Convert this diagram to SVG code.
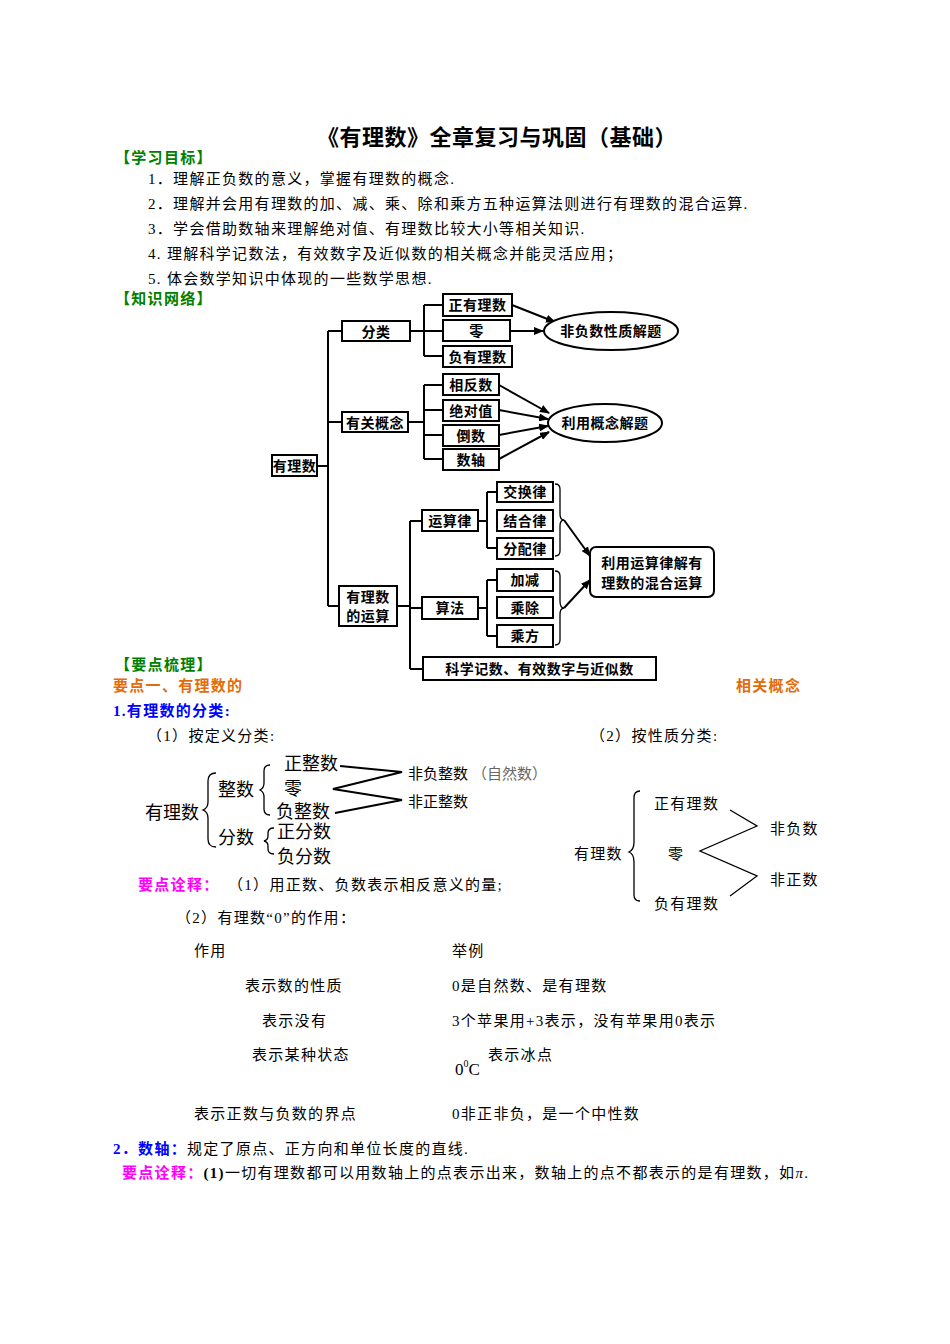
<svg xmlns="http://www.w3.org/2000/svg" width="950" height="1344" viewBox="0 0 950 1344">
<style>
text{font-family:"Liberation Serif","Noto Sans CJK SC",serif;font-size:15px;fill:#000;letter-spacing:1.3px}
.t{font-size:14px;font-weight:bold;letter-spacing:0.5px}
.c{text-anchor:middle}
.b{fill:#fff;stroke:#000;stroke-width:2}
.ln{stroke:#000;stroke-width:2;fill:none}
.thin{stroke:#000;stroke-width:1.3;fill:none}
.g{fill:#008000;font-weight:bold}
.o{fill:#e36c09;font-weight:bold}
.bl{fill:#0000ff;font-weight:bold}
.m{fill:#ff00ff;font-weight:bold}
.k{font-size:18px;letter-spacing:0}
</style>
<defs><marker id="a" markerWidth="10" markerHeight="8" refX="9" refY="4" orient="auto" markerUnits="userSpaceOnUse"><path d="M0,0L10,4L0,8z"/></marker></defs>
<rect width="950" height="1344" fill="#fff"/>
<text x="497" y="145" class="c" style="font-size:22px;font-weight:bold;letter-spacing:0.5px">《有理数》全章复习与巩固（基础）</text>
<text x="115" y="163" class="g">【学习目标】</text>
<text x="148" y="184">1．理解正负数的意义，掌握有理数的概念.</text>
<text x="148" y="209">2．理解并会用有理数的加、减、乘、除和乘方五种运算法则进行有理数的混合运算.</text>
<text x="148" y="234">3．学会借助数轴来理解绝对值、有理数比较大小等相关知识.</text>
<text x="148" y="259">4. 理解科学记数法，有效数字及近似数的相关概念并能灵活应用；</text>
<text x="148" y="284">5. 体会数学知识中体现的一些数学思想.</text>
<text x="115" y="304" class="g">【知识网络】</text>
<g id="connectors">
<path class="ln" d="M317,466H328M328,331V606M328,331H342M328,422H342M328,606H339"/>
<path class="ln" d="M410,331H443M424,305V356M424,305H443M424,356H443"/>
<path class="ln" d="M408,422H424M424,385V459M424,385H443M424,410H443M424,435H443M424,459H443"/>
<path class="ln" d="M397,606H410M410,521V669M410,521H422M410,608H422M410,669H423"/>
<path class="ln" d="M478,521H487M487,492V548M487,492H497M487,548H497"/>
<path class="ln" d="M478,608H487M487,580V636M487,580H497M487,636H497"/>
<path class="thin" d="M555,484q5,0 5,5v25q0,6 4,6q-4,0 -4,6v25q0,5 -5,5M555,571q5,0 5,5v25q0,7 4,7q-4,0 -4,7v25q0,5 -5,5"/>
<g class="ln" marker-end="url(#a)">
<path d="M512,305L555,322"/><path d="M510,331H543"/><path d="M499,385L549,413"/><path d="M499,410L548,419"/><path d="M499,435L548,426"/><path d="M499,459L549,432"/>
<path d="M564,520L590,556"/><path d="M564,608L590,580"/>
</g>
</g>
<g id="n-root"><rect class="b" x="272" y="455" width="45" height="21"/><text x="294.5" y="471" class="t c">有理数</text></g>
<g id="n-fenlei"><rect class="b" x="342" y="321" width="68" height="20"/><text x="376" y="337" class="t c">分类</text></g>
<g id="n-gainian"><rect class="b" x="342" y="412" width="66" height="20"/><text x="375" y="428" class="t c">有关概念</text></g>
<g id="n-yunsuan"><rect class="b" x="339" y="586" width="58" height="40"/><text x="368" y="602" class="t c">有理数</text><text x="368" y="621" class="t c">的运算</text></g>
<g id="n-z1"><rect class="b" x="443" y="294" width="69" height="22"/><text x="477.5" y="310" class="t c">正有理数</text></g>
<g id="n-z2"><rect class="b" x="443" y="320" width="67" height="21"/><text x="476.5" y="336" class="t c">零</text></g>
<g id="n-z3"><rect class="b" x="443" y="346" width="69" height="21"/><text x="477.5" y="362" class="t c">负有理数</text></g>
<g id="n-e1"><ellipse class="b" cx="611" cy="331" rx="67" ry="19"/><text x="611" y="336" class="t c">非负数性质解题</text></g>
<g id="n-g1"><rect class="b" x="443" y="374" width="56" height="21"/><text x="471" y="390" class="t c">相反数</text></g>
<g id="n-g2"><rect class="b" x="443" y="400" width="56" height="21"/><text x="471" y="416" class="t c">绝对值</text></g>
<g id="n-g3"><rect class="b" x="443" y="425" width="56" height="21"/><text x="471" y="441" class="t c">倒数</text></g>
<g id="n-g4"><rect class="b" x="443" y="449" width="56" height="21"/><text x="471" y="465" class="t c">数轴</text></g>
<g id="n-e2"><ellipse class="b" cx="605" cy="423" rx="57" ry="19"/><text x="605" y="428" class="t c">利用概念解题</text></g>
<g id="n-ysl"><rect class="b" x="422" y="510" width="56" height="21"/><text x="450" y="526" class="t c">运算律</text></g>
<g id="n-sf"><rect class="b" x="422" y="597" width="56" height="22"/><text x="450" y="613" class="t c">算法</text></g>
<g id="n-kx"><rect class="b" x="423" y="657" width="233" height="23"/><text x="539.5" y="674" class="t c">科学记数、有效数字与近似数</text></g>
<g id="n-l1"><rect class="b" x="497" y="482" width="56" height="20"/><text x="525" y="497" class="t c">交换律</text></g>
<g id="n-l2"><rect class="b" x="497" y="510" width="56" height="21"/><text x="525" y="526" class="t c">结合律</text></g>
<g id="n-l3"><rect class="b" x="497" y="538" width="56" height="21"/><text x="525" y="554" class="t c">分配律</text></g>
<g id="n-s1"><rect class="b" x="497" y="569" width="56" height="22"/><text x="525" y="585" class="t c">加减</text></g>
<g id="n-s2"><rect class="b" x="497" y="597" width="56" height="21"/><text x="525" y="613" class="t c">乘除</text></g>
<g id="n-s3"><rect class="b" x="497" y="625" width="56" height="22"/><text x="525" y="641" class="t c">乘方</text></g>
<g id="n-r"><rect class="b" x="590" y="547" width="124" height="50" rx="6"/><text x="652" y="568" class="t c">利用运算律解有</text><text x="652" y="588" class="t c">理数的混合运算</text></g>
<text x="115" y="670" class="g">【要点梳理】</text>
<text x="113" y="691" class="o">要点一、有理数的</text>
<text x="736" y="691" class="o">相关概念</text>
<text x="113" y="716" class="bl">1.有理数的分类:</text>
<text x="147" y="741">（1）按定义分类:</text>
<text x="590" y="741">（2）按性质分类:</text>
<g id="def-class">
<text x="145" y="819" class="k">有理数</text>
<text x="218" y="796" class="k">整数</text>
<text x="218" y="844" class="k">分数</text>
<text x="284" y="770" class="k">正整数</text>
<text x="284" y="795" class="k">零</text>
<text x="276" y="818" class="k">负整数</text>
<text x="277" y="838" class="k">正分数</text>
<text x="277" y="863" class="k">负分数</text>
<path class="thin" d="M216,773q-8,0 -8,8v21q0,6 -5,8q5,2 5,8v21q0,8 8,8M270,765q-6,0 -6,6v12q0,5 -4,7q4,2 4,7v12q0,6 6,6M274,828q-6,0 -6,5v3q0,4 -4,5q4,1 4,5v3q0,5 6,5"/>
<path stroke="#000" stroke-width="2" fill="none" d="M340,766L402,772L333,789L402,800L335,813"/>
<text x="408" y="779" style="letter-spacing:0">非负整数</text><text x="472" y="779" style="fill:#666;letter-spacing:0">（自然数）</text>
<text x="408" y="807" style="letter-spacing:0">非正整数</text>
</g>
<g id="prop-class">
<text x="574" y="859">有理数</text>
<text x="654" y="809">正有理数</text>
<text x="668" y="859">零</text>
<text x="654" y="909">负有理数</text>
<path class="thin" d="M640,791q-6,0 -6,7v44q0,8 -5,10q5,2 5,10v33q0,6 6,6"/>
<path class="thin" d="M730,810L757,826L700,851L757,876L730,896"/>
<text x="770" y="834">非负数</text>
<text x="770" y="885">非正数</text>
</g>
<text x="138" y="890" class="m">要点诠释：</text>
<text x="228" y="890">（1）用正数、负数表示相反意义的量;</text>
<text x="176" y="923">（2）有理数“0”的作用：</text>
<text x="194" y="956">作用</text><text x="452" y="956">举例</text>
<text x="245" y="991">表示数的性质</text><text x="452" y="991">0是自然数、是有理数</text>
<text x="262" y="1026">表示没有</text><text x="452" y="1026">3个苹果用+3表示，没有苹果用0表示</text>
<text x="252" y="1060">表示某种状态</text><text x="488" y="1060">表示冰点</text>
<text x="455" y="1075" style="font-size:17px;letter-spacing:0">0<tspan dy="-8" style="font-size:10px">0</tspan><tspan dy="8">C</tspan></text>
<text x="194" y="1119">表示正数与负数的界点</text><text x="452" y="1119">0非正非负，是一个中性数</text>
<text x="113" y="1154"><tspan class="bl">2．数轴：</tspan>规定了原点、正方向和单位长度的直线.</text>
<text x="122" y="1178"><tspan class="m">要点诠释：</tspan><tspan font-weight="bold">(1)</tspan>一切有理数都可以用数轴上的点表示出来，数轴上的点不都表示的是有理数，如<tspan font-style="italic">π</tspan>.</text>
</svg>
